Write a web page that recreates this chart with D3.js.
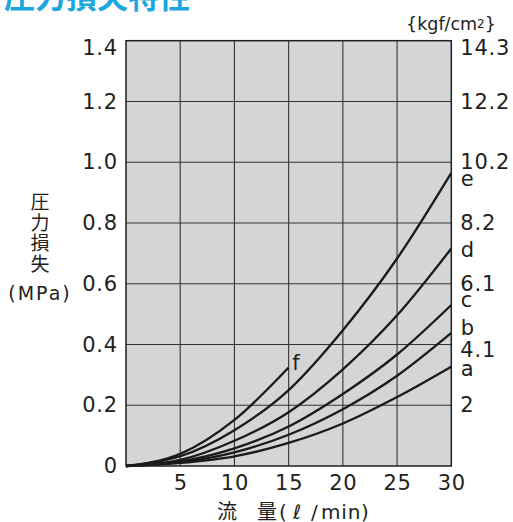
<!DOCTYPE html>
<html>
<head>
<meta charset="utf-8">
<script src="https://cdn.jsdelivr.net/npm/d3@7"></script>
<style>
  body { margin: 0; background: #fff; }
  text { fill: #231f20; font-family: "DejaVu Sans", "Noto Sans CJK JP", sans-serif; }
</style>
</head>
<body>
<script>
// flow (l/min) and pressure loss (MPa)
var flow = [0, 5, 10, 15, 20, 25, 30];
var lossA = [0, 0.010, 0.032, 0.076, 0.140, 0.227, 0.327];
var lossB = [0, 0.012, 0.045, 0.103, 0.187, 0.297, 0.438];
var lossC = [0, 0.015, 0.058, 0.130, 0.237, 0.367, 0.530];
var lossD = [0, 0.020, 0.083, 0.177, 0.318, 0.496, 0.716];
var lossE = [0, 0.032, 0.118, 0.250, 0.447, 0.683, 0.965];
var flowF = [0, 5, 10, 15];
var lossF = [0, 0.040, 0.152, 0.324];

var xTicks = [5, 10, 15, 20, 25, 30];
var yTicks = [0, 0.2, 0.4, 0.6, 0.8, 1.0, 1.2, 1.4];
var kgfLabels = ["2", "4.1", "6.1", "8.2", "10.2", "12.2", "14.3"];

var series = [
  {name: "a", x: flow, y: lossA},
  {name: "b", x: flow, y: lossB},
  {name: "c", x: flow, y: lossC},
  {name: "d", x: flow, y: lossD},
  {name: "e", x: flow, y: lossE},
  {name: "f", x: flowF, y: lossF}
];

var svg = d3.select("body")
  .append("svg")
    .attr("width", 513)
    .attr("height", 522);

var x = d3.scaleLinear().domain([0, 30]).range([126, 451.3]);
var y = d3.scaleLinear().domain([0, 1.4]).range([466, 40.7]);

// title, cut off at the top edge
svg.append("text")
  .attr("x", 4)
  .attr("y", 8)
  .style("font-family", "'Noto Sans CJK JP'")
  .style("font-weight", "bold")
  .style("font-size", "31px")
  .style("fill", "#1ba7e2")
  .text("圧力損失特性");

// plot background
svg.append("rect")
  .attr("x", x(0)).attr("y", y(1.4))
  .attr("width", x(30) - x(0)).attr("height", y(0) - y(1.4))
  .attr("fill", "#d4d5d7");

// grid
svg.append("g").selectAll("line")
  .data(xTicks.slice(0, -1))
  .enter().append("line")
    .attr("x1", function(d) { return x(d); })
    .attr("x2", function(d) { return x(d); })
    .attr("y1", y(0)).attr("y2", y(1.4))
    .attr("stroke", "#333")
    .attr("stroke-width", 1.1);

svg.append("g").selectAll("line")
  .data(yTicks.slice(1, -1))
  .enter().append("line")
    .attr("x1", x(0)).attr("x2", x(30))
    .attr("y1", function(d) { return y(d); })
    .attr("y2", function(d) { return y(d); })
    .attr("stroke", "#333")
    .attr("stroke-width", 1.1);

// curves
var line = d3.line()
  .x(function(d) { return x(d[0]); })
  .y(function(d) { return y(d[1]); })
  .curve(d3.curveMonotoneX);

svg.append("g").selectAll("path")
  .data(series)
  .enter().append("path")
    .attr("d", function(s) { return line(d3.zip(s.x, s.y)); })
    .attr("fill", "none")
    .attr("stroke", "#1a1a1a")
    .attr("stroke-width", 2.3);

// frame
svg.append("rect")
  .attr("x", x(0)).attr("y", y(1.4))
  .attr("width", x(30) - x(0)).attr("height", y(0) - y(1.4))
  .attr("fill", "none")
  .attr("stroke", "#231f20")
  .attr("stroke-width", 1.5);

// curve names
var nudge = {a: 9.4, b: 2.2, c: 1.6, d: 8.2, e: 13.4, f: 2.5};
svg.append("g").selectAll("text")
  .data(series)
  .enter().append("text")
    .attr("x", function(s) { return s.name === "f" ? x(15) + 3.5 : x(30) + 9.5; })
    .attr("y", function(s) { return y(s.y[s.y.length - 1]) + nudge[s.name]; })
    .style("font-size", "21px")
    .text(function(s) { return s.name; });

// axes
var left = svg.append("g")
  .attr("transform", "translate(" + (x(0) - 8) + ",0)")
  .call(d3.axisLeft(y).tickValues(yTicks).tickSize(0).tickPadding(0)
    .tickFormat(function(d) { return d === 0 ? "0" : d3.format(".1f")(d); }));
left.select(".domain").remove();

var right = svg.append("g")
  .attr("transform", "translate(" + (x(30) + 9) + ",0)")
  .call(d3.axisRight(y).tickValues(yTicks.slice(1)).tickSize(0).tickPadding(0)
    .tickFormat(function(d, i) { return kgfLabels[i]; }));
right.select(".domain").remove();

var bottom = svg.append("g")
  .attr("transform", "translate(0," + (y(0) + 9) + ")")
  .call(d3.axisBottom(x).tickValues(xTicks).tickSize(0).tickPadding(0));
bottom.select(".domain").remove();

svg.selectAll(".tick text")
  .style("font-family", "'DejaVu Sans'")
  .style("font-size", "21px")
  .style("fill", "#231f20")
  .attr("letter-spacing", "0.8");

// keep the top labels inside the page
left.selectAll(".tick").filter(function(d) { return d === 1.4; }).select("text").attr("dy", "0.66em");
right.selectAll(".tick").filter(function(d) { return d === 1.4; }).select("text").attr("dy", "0.66em");
right.selectAll(".tick").filter(function(d) { return d === 0.4; }).select("text").attr("dy", "0.58em");

// unit on the right
var unit = svg.append("text")
  .attr("x", 406)
  .attr("y", 30)
  .style("font-size", "17.5px");
unit.append("tspan").text("{kgf/cm");
unit.append("tspan").attr("dy", -2.5).style("font-size", "12px").text("2");
unit.append("tspan").attr("dy", 2.5).text("}");

// y axis title, stacked vertically
svg.append("g").selectAll("text")
  .data("圧力損失".split(""))
  .enter().append("text")
    .attr("x", 40)
    .attr("y", function(d, i) { return 209 + i * 20.5; })
    .attr("text-anchor", "middle")
    .style("font-family", "'Noto Sans CJK JP'")
    .style("font-size", "19px")
    .text(function(d) { return d; });

svg.append("text")
  .attr("x", 40)
  .attr("y", 300)
  .attr("text-anchor", "middle")
  .attr("letter-spacing", "2")
  .style("font-size", "19px")
  .text("(MPa)");

// x axis title
var xt = svg.append("text")
  .attr("y", 519)
  .style("font-size", "20px");
xt.append("tspan").attr("x", 217).style("font-family", "'Noto Sans CJK JP'").text("流");
xt.append("tspan").attr("x", 257).style("font-family", "'Noto Sans CJK JP'").text("量");
xt.append("tspan").attr("x", 279).text("(");
xt.append("tspan").attr("x", 293).text("ℓ");
xt.append("tspan").attr("x", 311).text("/");
xt.append("tspan").attr("x", 321).attr("letter-spacing", "0.8").text("min)");
</script>
</body>
</html>
